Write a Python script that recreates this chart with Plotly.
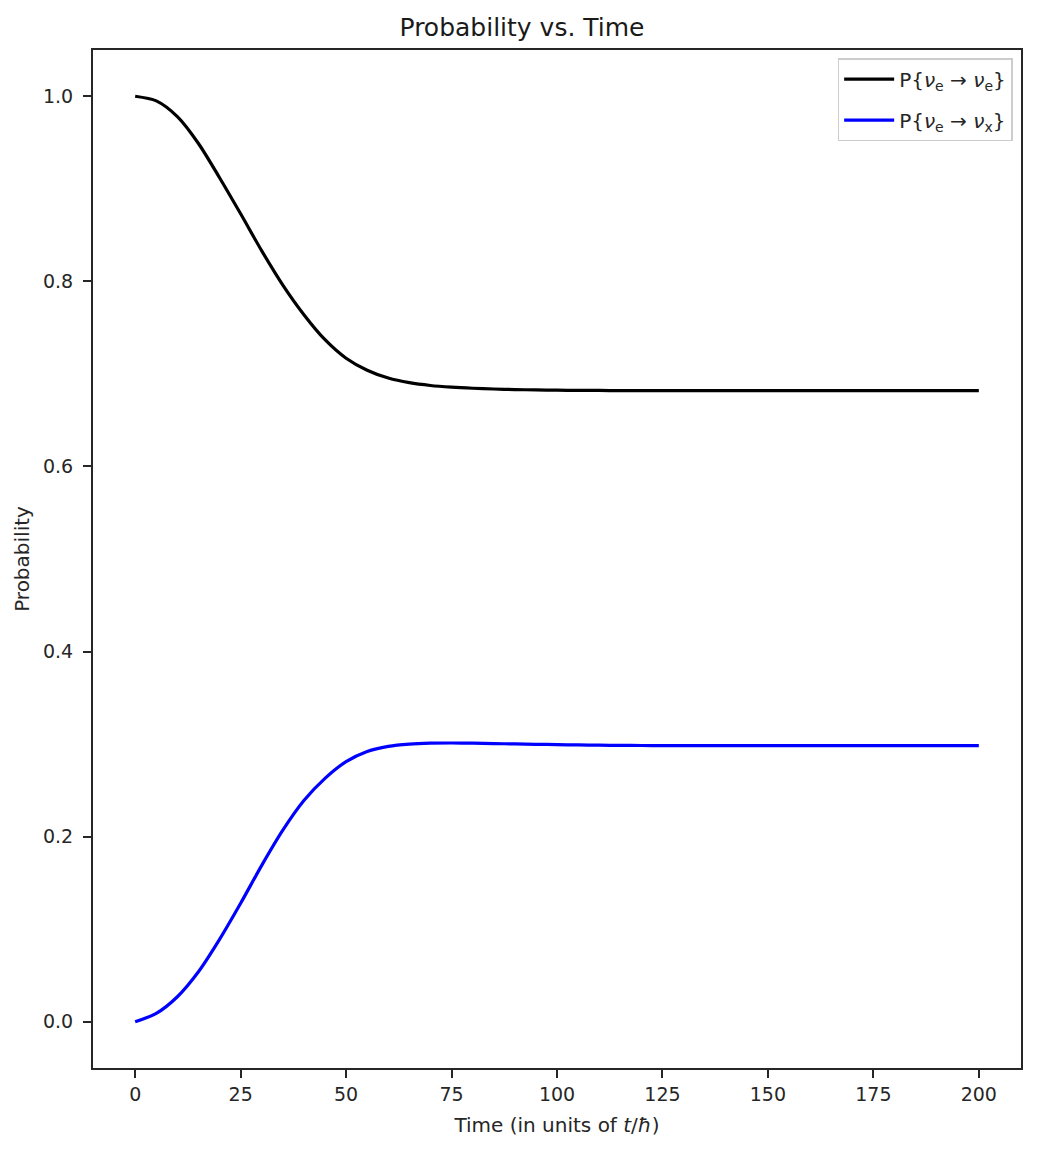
import plotly.graph_objects as go

time = [0, 5, 10, 15, 20, 25, 30, 35, 40, 45, 50, 55, 60, 65, 70, 75, 80, 85, 90, 95,
        100, 105, 110, 115, 120, 125, 130, 135, 140, 145, 150, 155, 160, 165, 170, 175,
        180, 185, 190, 195, 200]

p_ee = [1.000, 0.995, 0.978, 0.949, 0.912, 0.873, 0.833, 0.796, 0.764, 0.737, 0.717,
        0.704, 0.6955, 0.6905, 0.6875, 0.6857, 0.6845, 0.6837, 0.6831, 0.6827, 0.6824,
        0.6822, 0.6821, 0.682, 0.682, 0.682, 0.682, 0.682, 0.682, 0.682, 0.682, 0.682,
        0.682, 0.682, 0.682, 0.682, 0.682, 0.682, 0.682, 0.682, 0.682]

p_ex = [0.000, 0.009, 0.027, 0.054, 0.089, 0.128, 0.169, 0.207, 0.239, 0.263, 0.281,
        0.292, 0.2975, 0.3, 0.301, 0.3012, 0.301, 0.3006, 0.3002, 0.2998, 0.2994,
        0.2991, 0.2988, 0.2986, 0.2985, 0.2984, 0.2984, 0.2983, 0.2983, 0.2983, 0.2983,
        0.2983, 0.2983, 0.2983, 0.2983, 0.2983, 0.2983, 0.2983, 0.2983, 0.2983, 0.2983]

x_ticks = [0, 25, 50, 75, 100, 125, 150, 175, 200]
y_ticks = [0.0, 0.2, 0.4, 0.6, 0.8, 1.0]

FONT = "DejaVu Sans"
AX = "#262626"

fig = go.Figure()
fig.add_trace(go.Scatter(x=time, y=p_ee, mode="lines", legendgroup="a",
                         line=dict(color="black", width=3.2, shape="spline", smoothing=0.8),
                         name="P{<i>ν</i><sub>e</sub> → <i>ν</i><sub>e</sub>}"))
fig.add_trace(go.Scatter(x=time, y=p_ex, mode="lines", legendgroup="b",
                         line=dict(color="blue", width=3.2, shape="spline", smoothing=0.8),
                         name="P{<i>ν</i><sub>e</sub> → <i>ν</i><sub>x</sub>}"))

axis_common = dict(showline=True, linecolor=AX, linewidth=2, mirror=True,
                   ticks="outside", ticklen=8, tickwidth=1.5, tickcolor=AX,
                   showgrid=False, zeroline=False,
                   tickfont=dict(family=FONT, size=19, color=AX))

fig.update_layout(
    width=1044, height=1153,
    paper_bgcolor="white", plot_bgcolor="white",
    margin=dict(l=93, r=23, t=50, b=85),
    title=dict(text="Probability vs. Time", x=0.5, xanchor="center",
               y=1 - 27 / 1153, yanchor="middle",
               font=dict(family=FONT, size=25, color="#1a1a1a")),
    xaxis=dict(range=[-10, 210], tickvals=x_ticks,
               title=dict(text="Time (in units of <i>t</i>/<i>ħ</i>)",
                          font=dict(family=FONT, size=20, color=AX), standoff=14),
               **axis_common),
    yaxis=dict(range=[-0.05, 1.05], tickvals=y_ticks, tickformat=".1f",
               ticklabelstandoff=6,
               title=dict(text="Probability",
                          font=dict(family=FONT, size=20, color=AX), standoff=8),
               **axis_common),
    legend=dict(x=0.991, y=0.992, xanchor="right", yanchor="top",
                bgcolor="white", bordercolor="#cccccc", borderwidth=1.5,
                traceorder="grouped", tracegroupgap=12, itemwidth=50,
                font=dict(family=FONT, size=20, color=AX)),
    showlegend=True,
)

fig.write_html("out.html")
